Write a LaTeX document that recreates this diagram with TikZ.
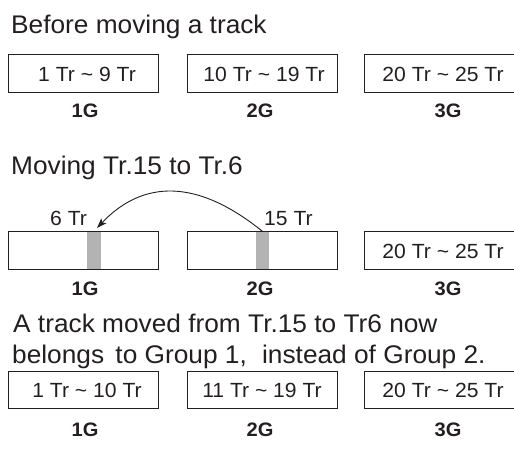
\documentclass[tikz,border=0pt]{standalone}
\usepackage{fontspec}
\setmainfont{Liberation Sans}[FakeStretch=1.03]
\usetikzlibrary{arrows.meta,calc}
\definecolor{ink}{HTML}{231F20}
\definecolor{barc}{HTML}{B3B3B3}
\tikzset{
  grpbox/.style={draw=ink,line width=0.9pt,minimum width=150pt,minimum height=37.5pt,inner sep=0pt},
  boxtxt/.style={text=ink,inner sep=0pt,font=\fontsize{20.5}{24}\selectfont},
  grplbl/.style={text=ink,inner sep=0pt,font=\fontsize{19.5}{23}\selectfont\bfseries},
  headtxt/.style={text=ink,inner sep=0pt,anchor=base west,font=\fontsize{25.5}{30}\selectfont},
  trkbar/.style={fill=barc,draw=none,minimum width=13.4pt,minimum height=37.5pt,inner sep=0pt},
  movearrow/.style={draw=ink,line width=0.9pt,-{Stealth[length=10pt,width=7pt,inset=2.5pt]}}
}
\begin{document}
\begin{tikzpicture}[x=1pt,y=-1pt]
\useasboundingbox (0,0) rectangle (514,450);
% Row 1
\node[headtxt] (h1) at (11,33) {Before moving a track};
\node[grpbox] (a1) at (83,73.3) {};
\node[grpbox] (a2) at (262,73.3) {};
\node[grpbox] (a3) at (439.5,73.3) {};
\node[boxtxt] (ta1) at (87,74) {1 Tr \textasciitilde\ 9 Tr};
\node[boxtxt] (ta2) at (264,74) {10 Tr \textasciitilde\ 19 Tr};
\node[boxtxt] (ta3) at (443,74) {20 Tr \textasciitilde\ 25 Tr};
\node[grplbl] (la1) at (85,110.5) {1G};
\node[grplbl] (la2) at (260,110.5) {2G};
\node[grplbl] (la3) at (448,110.5) {3G};
% Row 2
\node[headtxt] (h2) at (11,174) {Moving Tr.15 to Tr.6};
\node[trkbar] (bar1) at (94,250.4) {};
\node[trkbar] (bar2) at (262.6,250.4) {};
\node[grpbox] (b1) at (83,250.4) {};
\node[grpbox] (b2) at (262,250.4) {};
\node[grpbox] (b3) at (439.5,250.4) {};
\node[boxtxt] (tb3) at (443,251) {20 Tr \textasciitilde\ 25 Tr};
\node[boxtxt,anchor=base west] (six) at (50,225) {6 Tr};
\node[boxtxt,anchor=base west] (fifteen) at (264,225) {15 Tr};
\node[grplbl] (lb1) at (85,289) {1G};
\node[grplbl] (lb2) at (260,289) {2G};
\node[grplbl] (lb3) at (448,289) {3G};
\draw[movearrow] (bar2.north) .. controls (189,172) and (137,186) .. ($(bar1.north)+(3,-3.5)$);
% Row 3
\node[headtxt] (h3a) at (13,332) {A track moved from Tr.15 to Tr6 now};
\node[headtxt] (h3b) at (12,363) {belongs\hspace{4pt} to Group 1,\hspace{8pt} instead of Group 2.};
\node[grpbox] (c1) at (83,390) {};
\node[grpbox] (c2) at (262,390) {};
\node[grpbox] (c3) at (439.5,390) {};
\node[boxtxt] (tc1) at (87,390.7) {1 Tr \textasciitilde\ 10 Tr};
\node[boxtxt] (tc2) at (262,390.7) {11 Tr \textasciitilde\ 19 Tr};
\node[boxtxt] (tc3) at (443,390.7) {20 Tr \textasciitilde\ 25 Tr};
\node[grplbl] (lc1) at (85,430) {1G};
\node[grplbl] (lc2) at (260,430) {2G};
\node[grplbl] (lc3) at (448,430) {3G};
\end{tikzpicture}
\end{document}
